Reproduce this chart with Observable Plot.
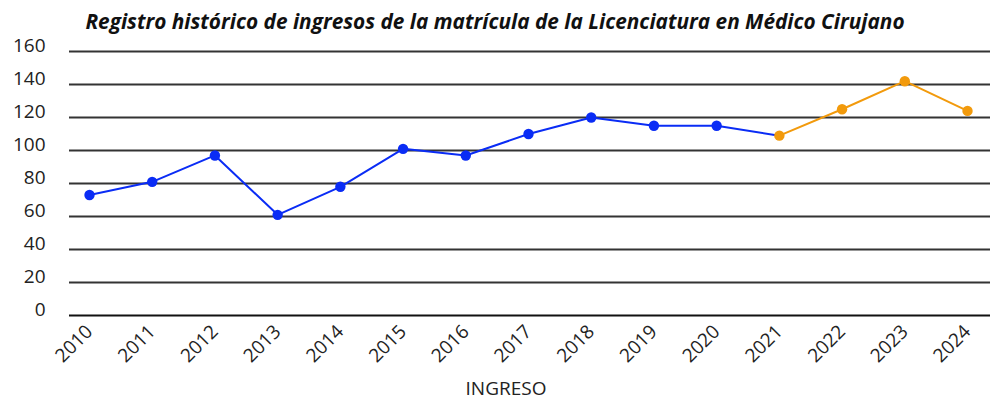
<!DOCTYPE html>
<html>
<head>
<meta charset="utf-8">
<script src="https://cdn.jsdelivr.net/npm/d3@7"></script>
<script src="https://cdn.jsdelivr.net/npm/@observablehq/plot@0.6"></script>
<style>
  html, body { margin: 0; padding: 0; background: #fff; }
  body { width: 990px; height: 402px; overflow: hidden; font-family: "Open Sans", sans-serif; }
  #title { height: 28px; line-height: 42px; text-align: center; font-size: 20.8px; font-weight: 700; font-style: italic; color: #111; position: relative; z-index: 1; }
</style>
</head>
<body>
<div id="title">Registro histórico de ingresos de la matrícula de la Licenciatura en Médico Cirujano</div>
<div id="chart"></div>
<script>
const years = [2010, 2011, 2012, 2013, 2014, 2015, 2016, 2017, 2018, 2019, 2020, 2021, 2022, 2023, 2024];
const ingresos = [73, 81, 97, 61, 78, 101, 97, 110, 120, 115, 115, 109, 125, 142, 124];
const yTicks = [0, 20, 40, 60, 80, 100, 120, 140, 160];
const inicioNaranja = 2021;
const colorAzul = "#0a2cf5";
const colorNaranja = "#f29a0c";

const data = years.map((y, i) => ({year: y, value: ingresos[i]}));
const azul = data.filter(d => d.year <= inicioNaranja);
const naranja = data.filter(d => d.year >= inicioNaranja);

const chart = Plot.plot({
  width: 990,
  height: 374,
  marginLeft: 69,
  marginRight: 0,
  marginTop: 23,
  marginBottom: 87,
  style: {fontFamily: "'Open Sans', sans-serif", fontSize: "19px", color: "#222", background: "transparent"},
  x: {domain: [2010, 2024], insetLeft: 20, insetRight: 23},
  y: {domain: [0, 160]},
  marks: [
    Plot.ruleY(yTicks.filter(t => t > 0), {stroke: "#333", strokeWidth: 1.8}),
    Plot.ruleY([0], {stroke: "#111", strokeWidth: 2.2}),
    Plot.axisY({ticks: yTicks, tickSize: 0, tickPadding: 24, dy: -6, label: null, fontSize: 19}),
    Plot.axisX({ticks: years, tickFormat: d => String(d), tickSize: 0, tickPadding: 13, tickRotate: -45, label: null, fontSize: 19}),
    Plot.line(azul, {x: "year", y: "value", stroke: colorAzul, strokeWidth: 2}),
    Plot.line(naranja, {x: "year", y: "value", stroke: colorNaranja, strokeWidth: 2}),
    Plot.dot(data, {x: "year", y: "value", r: 5.2, fill: d => d.year >= inicioNaranja ? colorNaranja : colorAzul, stroke: "none"}),
    Plot.text(["INGRESO"], {frameAnchor: "bottom", dx: -24, dy: 79, fontSize: 19, fill: "#222", text: d => d})
  ]
});
document.getElementById("chart").appendChild(chart);
</script>
</body>
</html>
